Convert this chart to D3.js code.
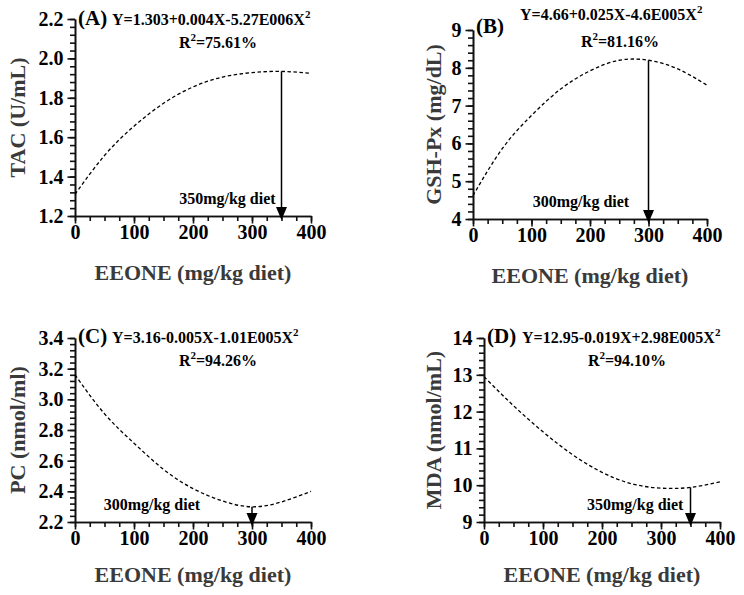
<!DOCTYPE html>
<html>
<head>
<meta charset="utf-8" />
<title>EEONE dose response</title>
<style>
  body { margin: 0; background: #fff; }
  svg text { font-family: "Liberation Serif", "Times New Roman", serif; font-weight: bold; }
  .axis path, .axis line { stroke: #111; stroke-width: 1.6px; }
  .axis .tick text { font-size: 20px; fill: #000; }
  .title { font-size: 22px; fill: #3a3a3a; }
  .fit { fill: none; stroke: #000; stroke-width: 1.3px; stroke-dasharray: 3.5 2.5; }
  .pointer { stroke: #000; stroke-width: 1.5px; }
</style>
</head>
<body>
<div id="chart"></div>
<script src="https://d3js.org/d3.v7.min.js"></script>
<script>
// dose levels (mg/kg diet) and fitted curve values
var doses = [0, 50, 100, 150, 200, 250, 300, 350, 400];
var tacValues = [1.31, 1.507, 1.656, 1.772, 1.855, 1.905, 1.928, 1.934, 1.924];
var gshValues = [4.62, 5.86, 6.74, 7.44, 7.92, 8.20, 8.20, 7.97, 7.54];
var pcValues = [3.16, 2.906, 2.714, 2.543, 2.418, 2.337, 2.299, 2.331, 2.40];
var mdaValues = [12.95, 12.16, 11.45, 10.83, 10.35, 10.04, 9.92, 9.94, 10.09];

var panelTags = ["(A)", "(B)", "(C)", "(D)"];
var yTitles = ["TAC (U/mL)", "GSH-Px (mg/dL)", "PC (nmol/ml)", "MDA (nmol/mL)"];
var equations = ["Y=1.303+0.004X-5.27E006X", "Y=4.66+0.025X-4.6E005X", "Y=3.16-0.005X-1.01E005X", "Y=12.95-0.019X+2.98E005X"];
var r2Labels = ["=75.61%", "=81.16%", "=94.26%", "=94.10%"];
var optimumDoses = [350, 300, 300, 350];
var optimumLabels = ["350mg/kg diet", "300mg/kg diet", "300mg/kg diet", "350mg/kg diet"];
var xTicks = [0, 100, 200, 300, 400];
var xTitle = "EEONE (mg/kg diet)";

var width = 744, height = 595;
var svg = d3.select("#chart").append("svg")
    .attr("width", width).attr("height", height);

// layout of the four panels (pixel boxes and annotation spots)
var panels = [
    { values: tacValues, domain: [1.2, 2.2], step: 0.2, minor: 0.04, fmt: ".1f",
      box: { left: 75, right: 311, top: 19, bottom: 216 }, titleX: 25,
      tag: [78, 25], eq: [112, 25], r2: [218, 48], labelEnd: 340 },
    { values: gshValues, domain: [4, 9], step: 1, minor: 0.2, fmt: "d",
      box: { left: 473, right: 707, top: 30, bottom: 219 }, titleX: 441,
      tag: [476, 33], eq: [520, 20], r2: [620, 47], labelEnd: 267 },
    { values: pcValues, domain: [2.2, 3.4], step: 0.2, minor: 0.04, fmt: ".1f",
      box: { left: 75, right: 311, top: 338, bottom: 522 }, titleX: 25,
      tag: [78, 343], eq: [112, 343], r2: [218, 366], labelEnd: 212 },
    { values: mdaValues, domain: [9, 14], step: 1, minor: 0.2, fmt: "d",
      box: { left: 484, right: 720, top: 338, bottom: 522 }, titleX: 441,
      tag: [487, 343], eq: [522, 343], r2: [627, 366], labelEnd: 338 }
];

panels.forEach(function(p, i) {
    var b = p.box;
    var x = d3.scaleLinear().domain([0, 400]).range([b.left, b.right]);
    var y = d3.scaleLinear().domain(p.domain).range([b.bottom, b.top]);
    var g = svg.append("g");

    var yMajor = d3.range(p.domain[0], p.domain[1] + p.step / 2, p.step);
    var yMinor = d3.range(p.domain[0], p.domain[1] + p.minor / 2, p.minor);
    var xMinor = d3.range(0, 401, 25);
    var blank = function() { return ""; };

    // minor ticks first, then major axes on top
    g.append("g").attr("class", "axis")
        .attr("transform", "translate(0," + b.bottom + ")")
        .call(d3.axisBottom(x).tickValues(xMinor).tickSize(5).tickFormat(blank).tickSizeOuter(0));
    g.append("g").attr("class", "axis")
        .attr("transform", "translate(" + b.left + ",0)")
        .call(d3.axisLeft(y).tickValues(yMinor).tickSize(5).tickFormat(blank).tickSizeOuter(0));

    g.append("g").attr("class", "axis")
        .attr("transform", "translate(0," + b.bottom + ")")
        .call(d3.axisBottom(x).tickValues(xTicks).tickSize(7.5).tickPadding(1.5).tickSizeOuter(0));
    g.append("g").attr("class", "axis")
        .attr("transform", "translate(" + b.left + ",0)")
        .call(d3.axisLeft(y).tickValues(yMajor).tickSize(7.5).tickPadding(4)
            .tickFormat(d3.format(p.fmt)).tickSizeOuter(0));

    // dashed fitted curve
    var line = d3.line()
        .x(function(d, j) { return x(doses[j]); })
        .y(function(d) { return y(d); })
        .curve(d3.curveNatural);
    g.append("path").datum(p.values).attr("class", "fit").attr("d", line);

    // arrow at the optimum dose
    var opt = optimumDoses[i];
    var j = doses.indexOf(opt);
    var ax = x(opt), tip = b.bottom + 4;
    g.append("line").attr("class", "pointer")
        .attr("x1", ax).attr("x2", ax)
        .attr("y1", y(p.values[j])).attr("y2", tip - 10);
    g.append("path")
        .attr("d", "M" + (ax - 5.5) + "," + (tip - 13) + "L" + (ax + 5.5) + "," + (tip - 13) + "L" + ax + "," + tip + "Z")
        .attr("fill", "#000");
    g.append("text")
        .attr("x", x(p.labelEnd)).attr("y", b.bottom - 12)
        .attr("text-anchor", "end")
        .style("font-size", "16px")
        .text(optimumLabels[i]);

    // panel tag, equation and R2
    g.append("text").attr("x", p.tag[0]).attr("y", p.tag[1])
        .style("font-size", "21px").text(panelTags[i]);
    var eq = g.append("text").attr("x", p.eq[0]).attr("y", p.eq[1])
        .style("font-size", "16px");
    eq.append("tspan").text(equations[i]);
    eq.append("tspan").attr("dy", -7).style("font-size", "11px").text("2");
    var r2 = g.append("text").attr("x", p.r2[0]).attr("y", p.r2[1])
        .attr("text-anchor", "middle").style("font-size", "16px");
    r2.append("tspan").text("R");
    r2.append("tspan").attr("dy", -7).style("font-size", "11px").text("2");
    r2.append("tspan").attr("dy", 7).text(r2Labels[i]);

    // axis titles
    g.append("text").attr("class", "title")
        .attr("transform", "translate(" + p.titleX + "," + ((b.top + b.bottom) / 2) + ") rotate(-90)")
        .attr("text-anchor", "middle")
        .text(yTitles[i]);
    g.append("text").attr("class", "title")
        .attr("x", (b.left + b.right) / 2).attr("y", b.bottom + (i < 2 ? 64 : 60))
        .attr("text-anchor", "middle")
        .text(xTitle);
});
</script>
</body>
</html>
